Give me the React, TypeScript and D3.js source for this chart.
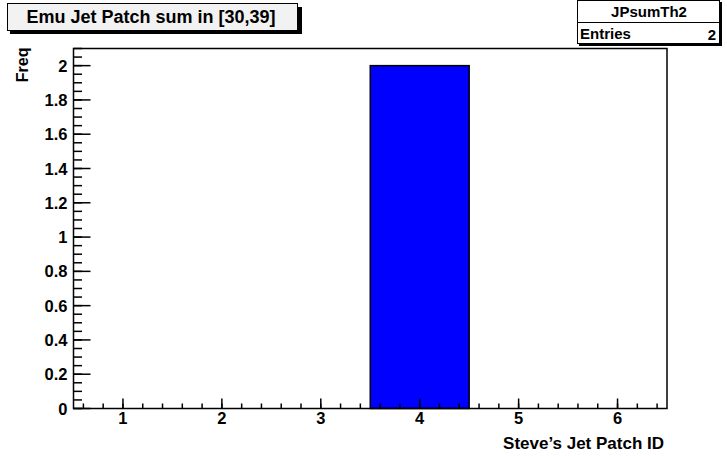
import React from "react";
import * as d3 from "d3";

const binCenters = [1, 2, 3, 4, 5, 6];
const binCounts = [0, 0, 0, 2, 0, 0];
const xTickValues = [1, 2, 3, 4, 5, 6];
const yTickValues = [0, 0.2, 0.4, 0.6, 0.8, 1, 1.2, 1.4, 1.6, 1.8, 2];
const titleText = "Emu Jet Patch sum in [30,39]";
const statsName = "JPsumTh2";
const statsEntries = 2;
const xTitle = "Steve\u2019s Jet Patch ID";
const yTitle = "Freq";

const W = 727;
const H = 457;
const FONT = "'Liberation Sans', Arial, Helvetica, sans-serif";

export default function App() {
  const left = 73.5, right = 667, top = 48.5, bottom = 408.5;
  const x = d3.scaleLinear().domain([0.5, 6.5]).range([left, right]);
  const y = d3.scaleLinear().domain([0, 2.1]).range([bottom, top]);

  const xMinor = d3.range(0.6, 6.5, 0.2).map((v) => +v.toFixed(2));
  const yMinor = d3.range(0, 2.1001, 0.05).map((v) => +v.toFixed(3));

  return (
    <svg
      width={W}
      height={H}
      style={{ position: "absolute", left: 0, top: 0, background: "#fff" }}
      fontFamily={FONT}
      fontWeight="bold"
    >
      <rect x={0} y={0} width={W} height={H} fill="#fff" />
      {binCenters.map((c, i) =>
        binCounts[i] > 0 ? (
          <rect
            key={i}
            x={x(c - 0.5)}
            y={y(binCounts[i])}
            width={x(c + 0.5) - x(c - 0.5)}
            height={y(0) - y(binCounts[i])}
            fill="#0000ff"
            stroke="#000"
            strokeWidth={1.5}
          />
        ) : null
      )}
      <rect x={left} y={top} width={right - left} height={bottom - top} fill="none" stroke="#000" strokeWidth={1.5} />
      {xMinor.map((v, i) => (
        <line key={"xm" + i} x1={x(v)} x2={x(v)} y1={bottom} y2={bottom - 5} stroke="#000" strokeWidth={1.5} />
      ))}
      {xTickValues.map((v) => (
        <g key={"xt" + v}>
          <line x1={x(v)} x2={x(v)} y1={bottom} y2={bottom - 10} stroke="#000" strokeWidth={1.5} />
          <text x={x(v)} y={bottom + 15.5} fontSize={16.5} textAnchor="middle">
            {d3.format("")(v)}
          </text>
        </g>
      ))}
      {yMinor.map((v, i) => (
        <line key={"ym" + i} x1={left} x2={left + 8.5} y1={y(v)} y2={y(v)} stroke="#000" strokeWidth={1.5} />
      ))}
      {yTickValues.map((v) => (
        <g key={"yt" + v}>
          <line x1={left} x2={left + 17} y1={y(v)} y2={y(v)} stroke="#000" strokeWidth={1.5} />
          <text x={left - 6} y={y(v) + 6} fontSize={16.5} textAnchor="end">
            {d3.format("")(+v.toFixed(1))}
          </text>
        </g>
      ))}
      <text x={664} y={449} fontSize={17} textAnchor="end">
        {xTitle}
      </text>
      <text transform={`translate(28,${top - 1}) rotate(-90)`} fontSize={16} textAnchor="end">
        {yTitle}
      </text>
      <rect x={10} y={7} width={292} height={27} fill="#000" />
      <rect x={7.5} y={3.5} width={290} height={27} fill="#f2f2f2" stroke="#000" strokeWidth={1} />
      <text x={151} y={23} fontSize={18} textAnchor="middle">
        {titleText}
      </text>
      <rect x={579} y={2} width={143} height={44} fill="#000" />
      <rect x={577.5} y={0.5} width={142} height={43} fill="#fff" stroke="#000" strokeWidth={1} />
      <line x1={577.5} x2={719.5} y1={22.5} y2={22.5} stroke="#000" strokeWidth={1} />
      <text x={649} y={17} fontSize={15} textAnchor="middle">
        {statsName}
      </text>
      <text x={580} y={39} fontSize={15}>
        Entries
      </text>
      <text x={716} y={40} fontSize={15} textAnchor="end">
        {statsEntries}
      </text>
    </svg>
  );
}
